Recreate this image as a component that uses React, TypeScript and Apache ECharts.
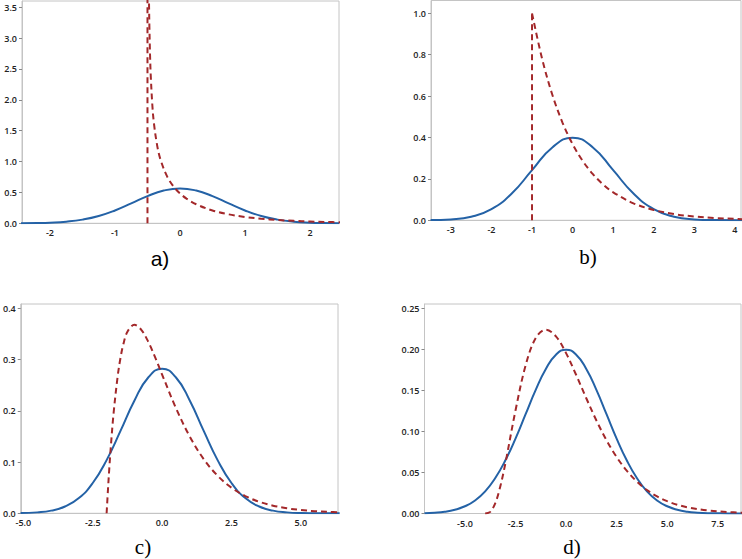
import React, { useEffect, useRef } from "react";
import * as echarts from "echarts";

// Panel a
const aNormal = [[-2.45, 0.0014], [-2.2, 0.0045], [-2.0, 0.0103], [-1.75, 0.0264], [-1.5, 0.0595], [-1.25, 0.1182], [-1.0, 0.2076], [-0.75, 0.3215], [-0.5, 0.4394], [-0.25, 0.53], [0, 0.5642], [0.25, 0.53], [0.5, 0.4394], [0.75, 0.3215], [1.0, 0.2076], [1.25, 0.1182], [1.5, 0.0595], [1.75, 0.0264], [2.0, 0.0103], [2.2, 0.0045], [2.45, 0.0014]];
const aSkewEdge = [[-0.5, 0], [-0.5, 3.8]];
const aSkew = [[-0.478, 3.72], [-0.475, 3.48], [-0.47, 3.161], [-0.46, 2.71], [-0.45, 2.4], [-0.425, 1.911], [-0.4, 1.614], [-0.35, 1.254], [-0.3, 1.033], [-0.2, 0.763], [-0.1, 0.598], [0, 0.484], [0.1, 0.4], [0.25, 0.308], [0.5, 0.2076], [0.75, 0.1446], [1.0, 0.1028], [1.25, 0.0741], [1.5, 0.054], [1.75, 0.0396], [2.0, 0.0293], [2.25, 0.0217], [2.5, 0.0162]];
const aXTicks = [-2, -1, 0, 1, 2];
const aYTicks = [0, 0.5, 1.0, 1.5, 2.0, 2.5, 3.0, 3.5];

// Panel b
const bNormal = [[-3.5, 0.0009], [-3.0, 0.0044], [-2.5, 0.0175], [-2.0, 0.054], [-1.5, 0.1295], [-1.0, 0.242], [-0.5, 0.3521], [0, 0.3989], [0.5, 0.3521], [1.0, 0.242], [1.5, 0.1295], [2.0, 0.054], [2.5, 0.0175], [3.0, 0.0044], [3.5, 0.0009], [4.2, 0.0001]];
const bSkewEdge = [[-1, 0], [-1, 1.0]];
const bSkew = [[-1, 1.0], [-0.75, 0.7788], [-0.5, 0.6065], [-0.25, 0.4724], [0, 0.3679], [0.25, 0.2865], [0.5, 0.2231], [0.75, 0.1738], [1.0, 0.1353], [1.5, 0.0821], [2.0, 0.0498], [2.5, 0.0302], [3.0, 0.0183], [3.5, 0.0111], [4.0, 0.0067], [4.2, 0.0055]];
const bXTicks = [-3, -2, -1, 0, 1, 2, 3, 4];
const bYTicks = [0, 0.2, 0.4, 0.6, 0.8, 1.0];

// Panel c
const cNormal = [[-5.1, 0.0004], [-4.5, 0.0018], [-4.0, 0.0052], [-3.5, 0.0132], [-3.0, 0.0297], [-2.5, 0.0591], [-2.0, 0.1038], [-1.5, 0.1607], [-1.0, 0.2197], [-0.5, 0.265], [0, 0.2821], [0.5, 0.265], [1.0, 0.2197], [1.5, 0.1607], [2.0, 0.1038], [2.5, 0.0591], [3.0, 0.0297], [3.5, 0.0132], [4.0, 0.0052], [4.5, 0.0018], [5.0, 0.0005], [5.5, 0.0002], [6.4, 0.0]];
const cSkew = [[-2, 0], [-1.95, 0.0476], [-1.9, 0.0905], [-1.85, 0.1291], [-1.75, 0.1947], [-1.6, 0.2681], [-1.5, 0.3033], [-1.4, 0.3293], [-1.25, 0.3543], [-1.0, 0.3679], [-0.75, 0.3581], [-0.5, 0.3347], [-0.25, 0.3041], [0, 0.2707], [0.5, 0.2052], [1.0, 0.1494], [1.5, 0.1057], [2.0, 0.0733], [2.5, 0.05], [3.0, 0.0337], [3.5, 0.0225], [4.0, 0.0149], [4.5, 0.0098], [5.0, 0.0064], [5.5, 0.0041], [6.0, 0.0027], [6.4, 0.0019]];
const cXTicks = [-5, -2.5, 0, 2.5, 5];
const cYTicks = [0, 0.1, 0.2, 0.3, 0.4];

// Panel d
const dNormal = [[-7.0, 0.0004], [-6.5, 0.001], [-6.0, 0.0022], [-5.5, 0.0046], [-5.0, 0.0088], [-4.5, 0.0159], [-4.0, 0.027], [-3.5, 0.0432], [-3.0, 0.0648], [-2.5, 0.0913], [-2.0, 0.121], [-1.5, 0.1506], [-1.0, 0.176], [-0.5, 0.1934], [0, 0.1995], [0.5, 0.1934], [1.0, 0.176], [1.5, 0.1506], [2.0, 0.121], [2.5, 0.0913], [3.0, 0.0648], [3.5, 0.0432], [4.0, 0.027], [4.5, 0.0159], [5.0, 0.0088], [5.5, 0.0046], [6.0, 0.0022], [6.5, 0.001], [7.0, 0.0004], [8.0, 0.0001], [8.7, 0.0]];
const dSkew = [[-4, 0], [-3.75, 0.002], [-3.5, 0.0126], [-3.25, 0.0332], [-3.0, 0.0613], [-2.5, 0.1255], [-2.0, 0.1804], [-1.5, 0.2138], [-1.0, 0.224], [-0.5, 0.2158], [0, 0.1954], [0.5, 0.1687], [1.0, 0.1404], [1.5, 0.1133], [2.0, 0.0892], [2.5, 0.0688], [3.0, 0.0521], [3.5, 0.0389], [4.0, 0.0286], [4.5, 0.0208], [5.0, 0.015], [5.5, 0.0107], [6.0, 0.0076], [7.0, 0.0037], [8.0, 0.0018], [8.7, 0.001]];
const dXTicks = [-5, -2.5, 0, 2.5, 5, 7.5];
const dYTicks = [0, 0.05, 0.1, 0.15, 0.2, 0.25];

const BLUE = "#2462a6";
const RED = "#a3282a";
const GRAY = "#c4c4c4";

function xAxis(idx: number, min: number, max: number, ticks: number[], dec: number) {
  return {
    type: "value",
    gridIndex: idx,
    min,
    max,
    axisLine: { show: true, onZero: false, lineStyle: { color: GRAY, width: 1 } },
    axisTick: { show: false, customValues: ticks },
    splitLine: { show: false },
    axisLabel: {
      customValues: ticks,
      formatter: (v: number) => v.toFixed(dec),
      fontFamily: "Open Sans",
      fontWeight: 600,
      fontSize: 9,
      color: "#222",
      margin: 5,
    },
  };
}

function yAxis(idx: number, max: number, ticks: number[], dec: number) {
  return {
    type: "value",
    gridIndex: idx,
    min: 0,
    max,
    axisLine: { show: true, onZero: false, lineStyle: { color: GRAY, width: 1 } },
    axisTick: { show: true, customValues: ticks, length: 3, lineStyle: { color: "#888" } },
    splitLine: { show: false },
    axisLabel: {
      customValues: ticks,
      formatter: (v: number) => v.toFixed(dec),
      fontFamily: "Open Sans",
      fontWeight: 600,
      fontSize: 9,
      color: "#222",
      margin: 5,
    },
  };
}

function normalSeries(idx: number, data: number[][]) {
  return {
    type: "line",
    xAxisIndex: idx,
    yAxisIndex: idx,
    data,
    smooth: 0.5,
    symbol: "none",
    lineStyle: { color: BLUE, width: 2 },
    z: 3,
  };
}

function skewSeries(idx: number, data: number[][], smooth: boolean) {
  return {
    type: "line",
    xAxisIndex: idx,
    yAxisIndex: idx,
    data,
    smooth: smooth ? 0.35 : false,
    symbol: "none",
    lineStyle: { color: RED, width: 2, type: [6, 4] },
    z: 4,
  };
}

function label(text: string, x: number, y: number, family: string) {
  return {
    type: "text",
    x,
    y,
    style: {
      text,
      fill: "#000",
      font: `21px ${family}`,
      align: "center",
      verticalAlign: "middle",
      textAlign: "center",
      textVerticalAlign: "middle",
    },
  };
}

export default function App() {
  const ref = useRef<HTMLDivElement>(null);
  useEffect(() => {
    if (!ref.current) return;
    const chart = echarts.init(ref.current, undefined, { renderer: "svg" });
    const gridBase = { show: true, borderColor: GRAY, borderWidth: 1, backgroundColor: "#fff", containLabel: false };
    chart.setOption({
      animation: false,
      backgroundColor: "#fff",
      grid: [
        { ...gridBase, left: 22, top: 1, width: 317, height: 222.3 },
        { ...gridBase, left: 431, top: 0.5, width: 310, height: 219.8 },
        { ...gridBase, left: 13, top: 304, width: 325, height: 209.3 },
        { ...gridBase, left: 424.5, top: 304, width: 316.5, height: 209.5 },
      ],
      xAxis: [
        xAxis(0, -2.43, 2.446, aXTicks, 0),
        xAxis(1, -3.49, 4.15, bXTicks, 0),
        xAxis(2, -5.095, 6.34, cXTicks, 1),
        xAxis(3, -7.0, 8.65, dXTicks, 1),
      ],
      yAxis: [
        yAxis(0, 3.6, aYTicks, 1),
        yAxis(1, 1.062, bYTicks, 1),
        yAxis(2, 0.4084, cYTicks, 1),
        yAxis(3, 0.2552, dYTicks, 2),
      ],
      series: [
        normalSeries(0, aNormal),
        skewSeries(0, aSkewEdge, false),
        skewSeries(0, aSkew, true),
        normalSeries(1, bNormal),
        skewSeries(1, bSkewEdge, false),
        skewSeries(1, bSkew, true),
        normalSeries(2, cNormal),
        skewSeries(2, cSkew, true),
        normalSeries(3, dNormal),
        skewSeries(3, dSkew, true),
      ],
      graphic: [
        label("a)", 160, 258, "'Liberation Sans', sans-serif"),
        label("b)", 588, 257, "'Liberation Serif', serif"),
        label("c)", 143, 547, "'Liberation Serif', serif"),
        label("d)", 572, 547, "'Liberation Serif', serif"),
      ],
    });
    return () => chart.dispose();
  }, []);
  return (
    <div
      ref={ref}
      style={{ position: "absolute", left: 0, top: 0, width: 742, height: 559, background: "#fff" }}
    />
  );
}
